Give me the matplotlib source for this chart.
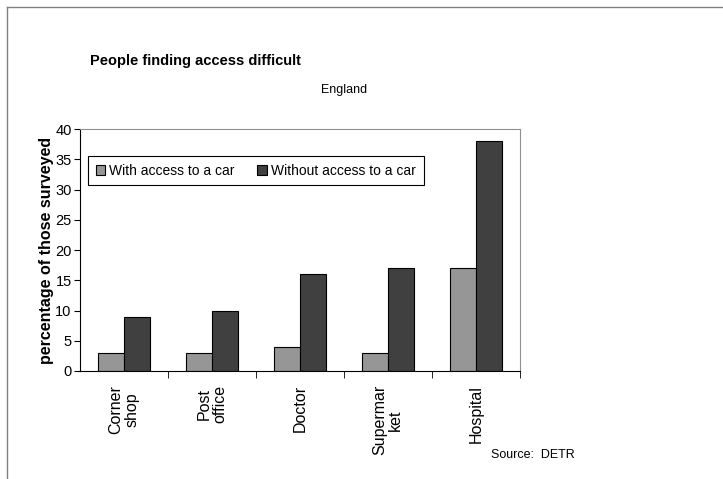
import numpy as np
import matplotlib.pyplot as plt
from matplotlib.lines import Line2D

plt.rcParams['font.family'] = ['Liberation Sans', 'DejaVu Sans']

categories = ["Corner\nshop", "Post\noffice", "Doctor", "Supermar\nket", "Hospital"]
with_car = [3, 3, 4, 3, 17]
without_car = [9, 10, 16, 17, 38]
series_names = ["With access to a car", "Without access to a car"]

fig = plt.figure(figsize=(7.23, 4.79), dpi=100)
ax = fig.add_axes([80 / 723, 108 / 479, 440 / 723, 242 / 479])

x = np.arange(len(categories))
w = 0.29
ax.bar(x - w / 2, with_car, w, color='#969696', edgecolor='black', linewidth=0.8,
       label=series_names[0])
ax.bar(x + w / 2, without_car, w, color='#404040', edgecolor='black', linewidth=0.8,
       label=series_names[1])

ax.set_xlim(-0.5, len(categories) - 0.5)
ax.set_ylim(0, 40)
ax.set_yticks(range(0, 41, 5))
ax.tick_params(axis='y', direction='out', length=4, labelsize=10.5, pad=2)

# category labels at centres, tick marks at the boundaries
ax.set_xticks(x)
ax.set_xticklabels(categories, rotation=90, fontsize=11.5, va='top', ha='center',
                   linespacing=1.05)
ax.tick_params(axis='x', which='major', length=0, pad=10)
ax.set_xticks(np.arange(0.5, len(categories)), minor=True)
ax.tick_params(axis='x', which='minor', direction='out', length=5)

for s in ['top', 'right']:
    ax.spines[s].set_color('#909090')
for s in ['left', 'bottom']:
    ax.spines[s].set_color('black')

ax.set_ylabel("percentage of those surveyed", fontsize=11.5, fontweight='bold', labelpad=1)

leg = ax.legend(loc='upper left', bbox_to_anchor=(0.018, 0.888), ncol=2, fontsize=10,
                handlelength=0.7, handleheight=0.7, handletextpad=0.3,
                columnspacing=1.6, fancybox=False, framealpha=1,
                borderpad=0.55, borderaxespad=0)
leg.get_frame().set_edgecolor('black')
leg.get_frame().set_linewidth(0.8)

fig.text(195 / 723, 1 - 61 / 479, "People finding access difficult", fontsize=10.5,
         fontweight='bold', ha='center', va='center')
fig.text(344 / 723, 1 - 90 / 479, "England", fontsize=9, ha='center', va='center')
fig.text(533 / 723, 1 - 455 / 479, "Source:  DETR", fontsize=9, ha='center', va='center')

# outer chart frame (left and top edges visible)
fig.add_artist(Line2D([7 / 723, 7 / 723], [0, 1 - 7 / 479], color='#808080', lw=1))
fig.add_artist(Line2D([7 / 723, 1], [1 - 7 / 479, 1 - 7 / 479], color='#808080', lw=1))

fig.savefig("out.png", dpi=100)
